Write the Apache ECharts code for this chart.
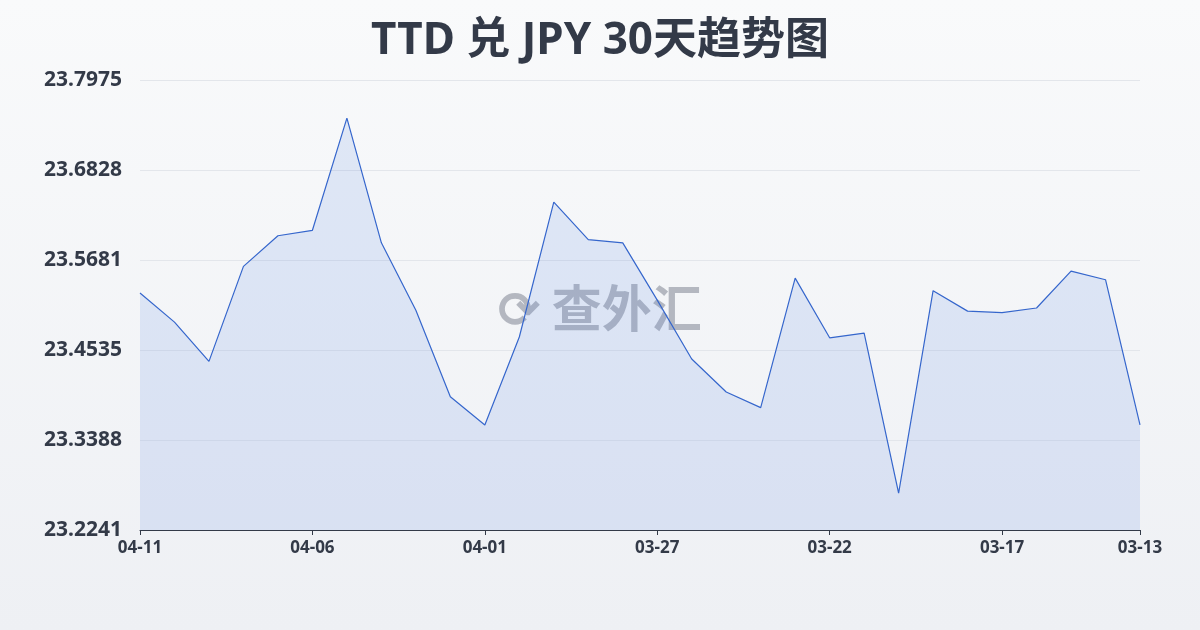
<!DOCTYPE html>
<html>
<head>
<meta charset="utf-8">
<script src="https://cdn.jsdelivr.net/npm/echarts@6/dist/echarts.min.js"></script>
<style>
  html, body { margin: 0; padding: 0; }
  #main { width: 1200px; height: 630px; background: linear-gradient(180deg, #f9fafb 0%, #eef0f4 100%); }
</style>
</head>
<body>
<div id="main"></div>
<script>
const dates = ['04-11','04-10','04-09','04-08','04-07','04-06','04-05','04-04','04-03','04-02',
  '04-01','03-31','03-30','03-29','03-28','03-27','03-26','03-25','03-24','03-23',
  '03-22','03-21','03-20','03-19','03-18','03-17','03-16','03-15','03-14','03-13']
const rates = [23.526, 23.489, 23.439, 23.560, 23.599, 23.606, 23.749, 23.590, 23.504, 23.394,
  23.358, 23.470, 23.642, 23.594, 23.590, 23.517, 23.442, 23.400, 23.380, 23.545,
  23.469, 23.475, 23.271, 23.529, 23.503, 23.501, 23.507, 23.554, 23.543, 23.358]
const yMin = 23.2241
const yMax = 23.7975
const yStep = (yMax - yMin) / 5

// 以最小值为基准绘制，刻度标签再加回去
const shifted = rates.map(v => v - yMin)

const chart = echarts.init(document.getElementById('main'))
chart.setOption({
  title: {
    text: 'TTD 兑 JPY 30天趋势图',
    left: 'center',
    top: 14,
    textStyle: { fontSize: 44, fontWeight: 'bold', color: '#333a48', fontFamily: 'Noto Sans, Noto Sans CJK SC' }
  },
  graphic: [{
    type: 'text',
    left: 'center',
    top: 283,
    style: { text: '⟳ 查外汇', fontSize: 50, fontWeight: 'bold', fill: 'rgba(60,70,90,0.35)', fontFamily: 'Noto Sans CJK SC' }
  }],
  grid: { left: 140, right: 60, top: 80, bottom: 100 },
  xAxis: {
    type: 'category',
    data: dates,
    boundaryGap: false,
    axisLine: { lineStyle: { color: '#333a48' } },
    axisTick: { show: true, interval: i => i % 5 === 0 || i === 29, lineStyle: { color: '#333a48' } },
    axisLabel: {
      interval: i => i % 5 === 0 || i === 29,
      color: '#333a48', fontSize: 17, fontWeight: 'bold', margin: 10, fontFamily: 'Noto Sans'
    }
  },
  yAxis: {
    type: 'value',
    min: 0,
    max: yMax - yMin,
    interval: yStep,
    axisLine: { show: false },
    axisTick: { show: false },
    splitLine: { lineStyle: { color: '#e3e6eb' } },
    axisLabel: {
      formatter: v => (v + yMin).toFixed(4),
      color: '#333a48', fontSize: 21, fontWeight: 'bold', margin: 18, fontFamily: 'Noto Sans'
    }
  },
  series: [{
    type: 'line',
    data: shifted,
    symbol: 'none',
    lineStyle: { color: '#3566cc', width: 1.2 },
    areaStyle: { color: 'rgba(80,130,230,0.2)' }
  }]
})
</script>
</body>
</html>
